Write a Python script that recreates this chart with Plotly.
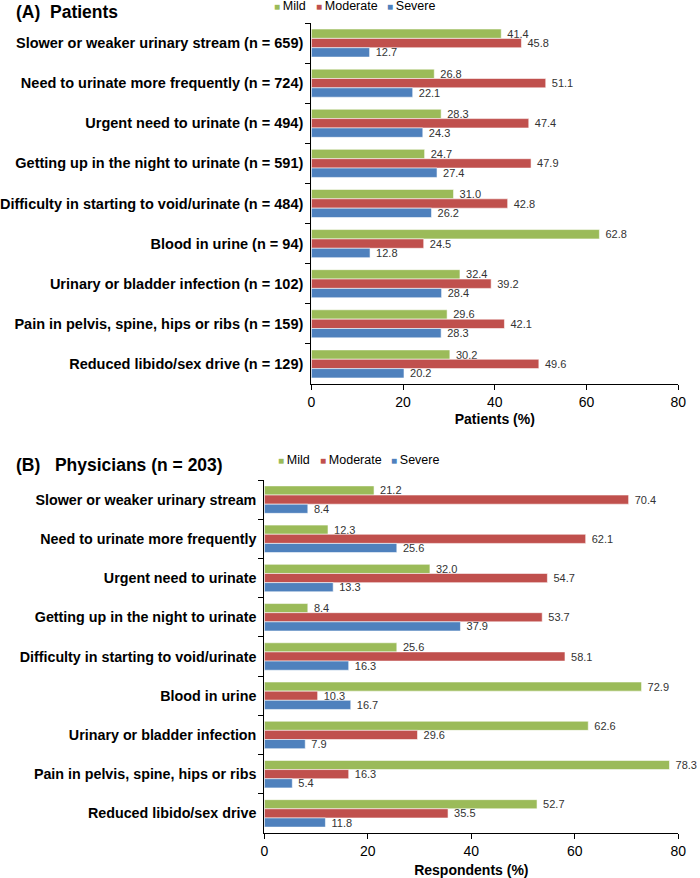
import plotly.graph_objects as go

symptoms_patients = [
    "Slower or weaker urinary stream (n = 659)",
    "Need to urinate more frequently (n = 724)",
    "Urgent need to urinate (n = 494)",
    "Getting up in the night to urinate (n = 591)",
    "Difficulty in starting to void/urinate (n = 484)",
    "Blood in urine (n = 94)",
    "Urinary or bladder infection (n = 102)",
    "Pain in pelvis, spine, hips or ribs (n = 159)",
    "Reduced libido/sex drive (n = 129)",
]
symptoms_physicians = [
    "Slower or weaker urinary stream",
    "Need to urinate more frequently",
    "Urgent need to urinate",
    "Getting up in the night to urinate",
    "Difficulty in starting to void/urinate",
    "Blood in urine",
    "Urinary or bladder infection",
    "Pain in pelvis, spine, hips or ribs",
    "Reduced libido/sex drive",
]
severity_levels = ["Mild", "Moderate", "Severe"]

patients_mild = [41.4, 26.8, 28.3, 24.7, 31.0, 62.8, 32.4, 29.6, 30.2]
patients_moderate = [45.8, 51.1, 47.4, 47.9, 42.8, 24.5, 39.2, 42.1, 49.6]
patients_severe = [12.7, 22.1, 24.3, 27.4, 26.2, 12.8, 28.4, 28.3, 20.2]

physicians_mild = [21.2, 12.3, 32.0, 8.4, 25.6, 72.9, 62.6, 78.3, 52.7]
physicians_moderate = [70.4, 62.1, 54.7, 53.7, 58.1, 10.3, 29.6, 16.3, 35.5]
physicians_severe = [8.4, 25.6, 13.3, 37.9, 16.3, 16.7, 7.9, 5.4, 11.8]

x_ticks = [0, 20, 40, 60, 80]

colors = {"Mild": "#9BBB59", "Moderate": "#C0504D", "Severe": "#4F81BD"}
FONT = "Liberation Sans, Arial, sans-serif"

fig = go.Figure()

panels = [
    (symptoms_patients, [patients_mild, patients_moderate, patients_severe], "x", "y"),
    (symptoms_physicians, [physicians_mild, physicians_moderate, physicians_severe], "x2", "y2"),
]
for cats, series, xa, ya in panels:
    for name, vals in zip(severity_levels, series):
        fig.add_trace(go.Bar(
            x=vals, y=cats, name=name, orientation="h",
            xaxis=xa, yaxis=ya,
            marker=dict(color=colors[name], line=dict(color="rgba(255,255,255,0.7)", width=0.8)),
            texttemplate=" %{x:.1f}", textposition="outside",
            constraintext="none", textangle=0,
            textfont=dict(size=11, color="#333333", family=FONT),
            cliponaxis=False, showlegend=False, hoverinfo="skip",
        ))

xaxis_common = dict(
    range=[0, 80], tickvals=x_ticks, ticks="outside", ticklen=5, tickcolor="black",
    showline=True, linecolor="black", linewidth=1.3, showgrid=False, zeroline=False,
    tickfont=dict(size=14, color="black", family=FONT),
)
yaxis_common = dict(
    autorange="reversed", type="category", ticks="outside", ticklen=5, tickcolor="black",
    tickson="boundaries", showline=True, linecolor="black", linewidth=1.3, showgrid=False,
    ticklabelstandoff=4,
)

fig.update_layout(
    width=700, height=878,
    margin=dict(l=0, r=0, t=0, b=0),
    paper_bgcolor="white", plot_bgcolor="white",
    barmode="group", bargap=0.3, bargroupgap=0,
    showlegend=False,
    xaxis=dict(domain=[311/700, 686/700], anchor="y",
               title=dict(text="<b>Patients (%)</b>", font=dict(size=14, color="black", family=FONT), standoff=5),
               **xaxis_common),
    yaxis=dict(domain=[1 - 384/878, 1 - 23/878], anchor="x",
               tickfont=dict(size=14.5, color="black", family=FONT, weight="bold"),
               **yaxis_common),
    xaxis2=dict(domain=[263/700, 686/700], anchor="y2",
                title=dict(text="<b>Respondents (%)</b>", font=dict(size=14, color="black", family=FONT), standoff=7),
                **xaxis_common),
    yaxis2=dict(domain=[1 - 833/878, 1 - 480/878], anchor="x2",
                tickfont=dict(size=14.3, color="black", family=FONT, weight="bold"),
                **yaxis_common),
)

# Panel titles
fig.add_annotation(text="<b>(A)  Patients</b>", x=7/700, y=1 - 12/878, xref="paper", yref="paper",
                   xanchor="left", yanchor="middle", showarrow=False,
                   font=dict(size=17.5, color="black", family=FONT))
fig.add_annotation(text="<b>(B)   Physicians (n = 203)</b>", x=7/700, y=1 - 465/878, xref="paper", yref="paper",
                   xanchor="left", yanchor="middle", showarrow=False,
                   font=dict(size=17.5, color="black", family=FONT))

# Legends (compact Excel style)
def legend_row(x0_px, y_px):
    xs = [x0_px, x0_px + 43, x0_px + 115]
    for name, xp in zip(severity_levels, xs):
        fig.add_annotation(
            text=f"<span style='color:{colors[name]}; font-size:10px'>■ </span>{name}",
            x=xp/700, y=1 - y_px/878, xref="paper", yref="paper",
            xanchor="left", yanchor="middle", showarrow=False,
            font=dict(size=12.5, color="black", family=FONT))

legend_row(271, 6)
legend_row(275, 460)

fig.write_html("out.html", config={"displayModeBar": False},
               post_script="document.body.style.margin='0';")
